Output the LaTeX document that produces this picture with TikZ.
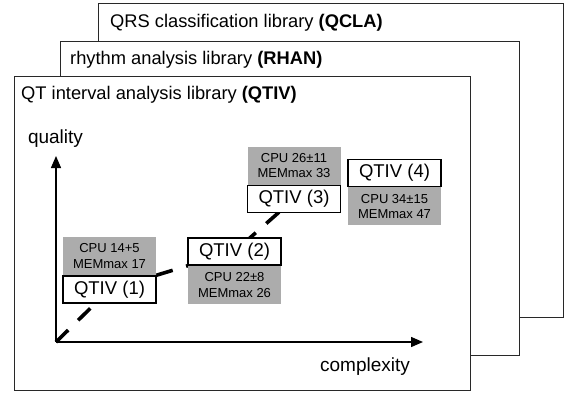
\documentclass[tikz,border=0pt]{standalone}
\usepackage{fontspec}
\setmainfont{Liberation Sans}
\usetikzlibrary{arrows.meta,positioning}
\pgfdeclarelayer{back}
\pgfdeclarelayer{mid}
\pgfsetlayers{back,mid,main}
\definecolor{boxgray}{RGB}{172,172,172}
\definecolor{framecol}{RGB}{40,40,40}
\tikzset{
  libbox/.style={draw=framecol, line width=1.3pt, fill=white, anchor=north west, inner sep=0pt},
  libtitle/.style={anchor=west, inner sep=0pt, font=\fontsize{18.3}{22}\selectfont},
  qbox/.style={draw=black, line width=1.3pt, fill=white, minimum width=93pt, minimum height=27pt, inner sep=0pt, font=\fontsize{18.5}{22}\selectfont},
  gbox/.style={fill=boxgray, minimum width=93pt, minimum height=38pt, inner sep=0pt, align=center, font=\fontsize{13}{15.5}\selectfont},
  axis/.style={line width=1.4pt, -{Triangle[width=10pt,length=12pt]}},
  trend/.style={line width=3.6pt, dash pattern=on 17pt off 14pt},
  axlabel/.style={inner sep=0pt, font=\fontsize{19}{22}\selectfont}
}
\begin{document}
\begin{tikzpicture}[x=1pt,y=-1pt]
\useasboundingbox (0,0) rectangle (568,394);
\begin{pgfonlayer}{back}
  \node[libbox, minimum width=465pt, minimum height=314pt] (lib3) at (98,3) {};
  \node[libbox, minimum width=459pt, minimum height=314pt] (lib2) at (60,41) {};
  \node[libbox, minimum width=456pt, minimum height=314pt] (lib1) at (14,76) {};
\end{pgfonlayer}
\node[libtitle] (t3) at (110,23) {QRS classification library \textbf{(QCLA)}};
\node[libtitle] (t2) at (70,60) {rhythm analysis library \textbf{(RHAN)}};
\node[libtitle] (t1) at (21,95) {QT interval analysis library \textbf{(QTIV)}};

\coordinate (o) at (56,342);
\coordinate (ytip) at (56,156);
\coordinate (xtip) at (423,342);
\draw[axis] (o) -- (ytip);
\draw[axis] (o) -- (xtip);
\node[axlabel] (ql) at (55.5,139) {quality};
\node[axlabel] (cl) at (365,367) {complexity};

\node[qbox] (q1) at (109.5,289.5) {QTIV (1)};
\node[gbox, above=0pt of q1] (g1) {CPU 14+5\\MEMmax 17};
\node[qbox] (q2) at (234.5,251.5) {QTIV (2)};
\node[gbox, below=0pt of q2] (g2) {CPU 22±8\\MEMmax 26};
\node[qbox] (q3) at (294,199) {QTIV (3)};
\node[gbox, above=0pt of q3] (g3) {CPU 26±11\\MEMmax 33};
\node[qbox] (q4) at (394.5,173) {QTIV (4)};
\node[gbox, below=0pt of q4] (g4) {CPU 34±15\\MEMmax 47};

\begin{pgfonlayer}{mid}
  \draw[trend] (o) -- (q1.center) -- (q2.center) -- (q3.center) -- (q4.center);
\end{pgfonlayer}
\end{tikzpicture}
\end{document}
